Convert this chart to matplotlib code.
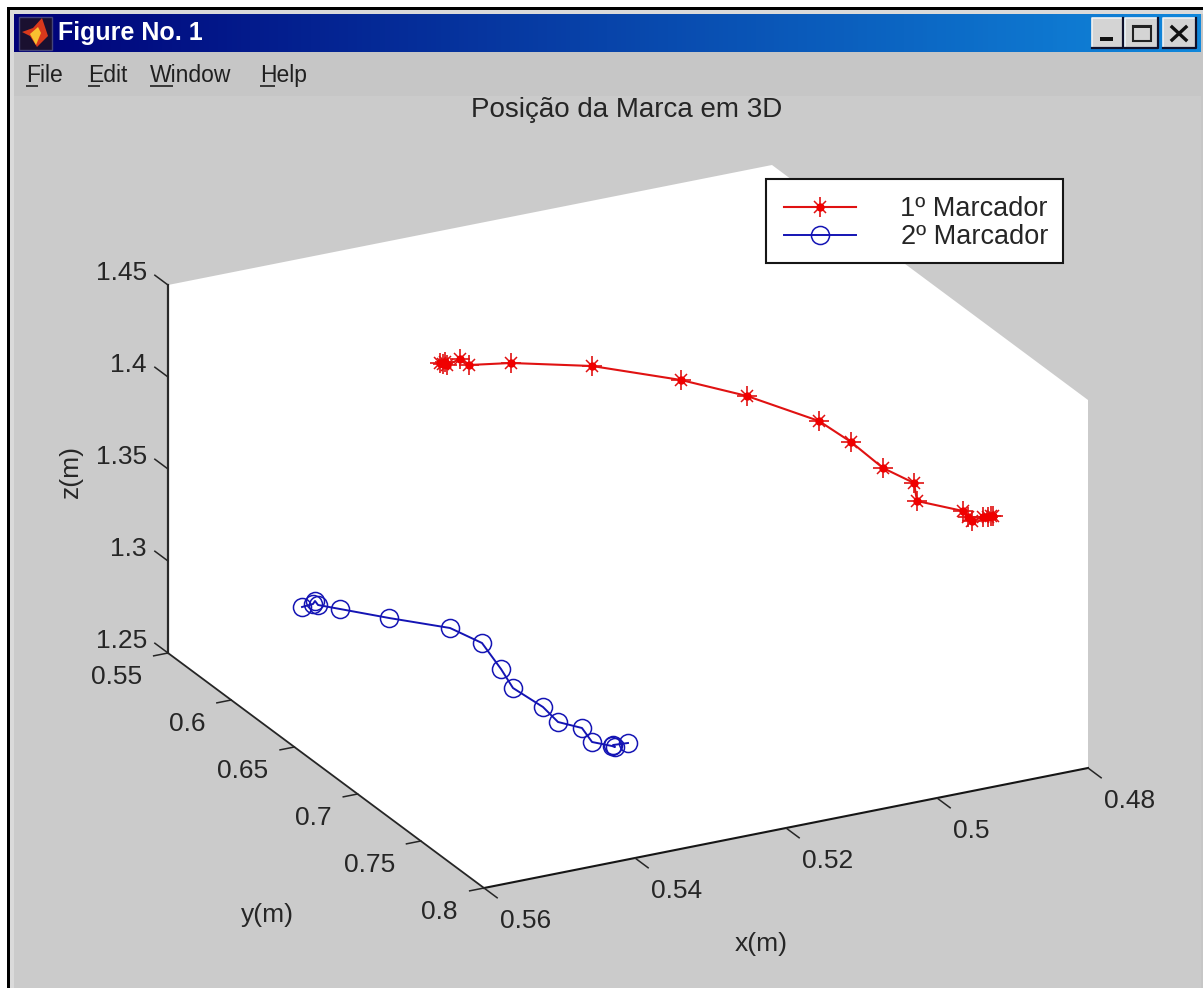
import numpy as np
import matplotlib
matplotlib.use("Agg")
import matplotlib.pyplot as plt
from matplotlib.patches import Polygon, Rectangle

plt.rcParams['font.family'] = ['Liberation Sans', 'DejaVu Sans']

# marker positions in metres
x1 = [.53234, .53211, .53202, .53175, .53037, .52951, .52545, .51807, .50963, .5034, .49638,
      .49297, .49041, .48798, .48758, .484, .48384, .48365, .48353, .48354, .48364, .48371]
y1 = [.600, .601, .602, .602, .604, .606, .615, .635, .655, .67, .685,
      .69, .70, .71, .71, .725, .728, .73, .738, .742, .745, .747]
z1 = [1.41061, 1.41039, 1.41191, 1.41006, 1.41321, 1.41027, 1.41265, 1.41522, 1.41095, 1.40484, 1.39319,
      1.38155, 1.37045, 1.36542, 1.35531, 1.35462, 1.35276, 1.35145, 1.35761, 1.35967, 1.36183, 1.3629]

x2 = [.55062, .5495, .5494, .54917, .54726, .54328, .53855, .53599, .53431, .53356,
      .5321, .53178, .53112, .53146, .53133, .53143, .53136, .53172]
y2 = [.60, .602, .603, .604, .61, .625, .645, .655, .66, .665,
      .68, .69, .705, .715, .73, .733, .731, .745]
z2 = [1.2929, 1.29464, 1.2967, 1.29485, 1.29418, 1.29371, 1.29463, 1.2895, 1.27655, 1.26817,
      1.26432, 1.26102, 1.26488, 1.26266, 1.26804, 1.26911, 1.26912, 1.27765]

x_ticks = [0.56, 0.54, 0.52, 0.5, 0.48]
y_ticks = [0.55, 0.6, 0.65, 0.7, 0.75, 0.8]
z_ticks = [1.25, 1.3, 1.35, 1.4, 1.45]
x_labels = ['0.56', '0.54', '0.52', '0.5', '0.48']
y_labels = ['0.55', '0.6', '0.65', '0.7', '0.75', '0.8']
z_labels = ['1.25', '1.3', '1.35', '1.4', '1.45']
series_names = ['1º Marcador', '2º Marcador']
menu_items = ['File', 'Edit', 'Window', 'Help']
menu_left = [26, 88, 150, 260]
menu_under = [12, 12, 23, 15]

GRAY = '#cbcbcb'
TXT = '#262626'
RED = '#e01212'
BLUE = '#1414b4'


def project(x, y, z):
    # matlab style orthographic view, screen pixels
    x, y, z = np.asarray(x), np.asarray(y), np.asarray(z)
    u = 168 + 7550 * (.56 - x) + 1264 * (y - .55)
    v = 653 - 1500 * (.56 - x) + 940 * (y - .55) - 1840 * (z - 1.25)
    return u, v


def star_line(u, v, zorder, every=None):
    # matlab star: long cross, shorter diagonals, blob in the middle
    ax.plot(u, v, color=RED, lw=1.5, zorder=zorder)
    ax.plot(u, v, ls='none', marker='+', ms=14, mew=1.2, mec=RED, markevery=every, zorder=zorder)
    ax.plot(u, v, ls='none', marker='x', ms=9, mew=1.1, mec=RED, markevery=every, zorder=zorder)
    ax.plot(u, v, ls='none', marker='o', ms=6, mew=0, mfc='#f00000', markevery=every, zorder=zorder)


fig = plt.figure(figsize=(12.03, 9.88), dpi=100, facecolor='white')
ax = fig.add_axes([0, 0, 1, 1])

# window chrome
ax.add_patch(Rectangle((7, 7), 1196, 981, fc='black', ec='none'))
ax.add_patch(Rectangle((10, 10), 1193, 978, fc='#dadada', ec='none'))
ax.add_patch(Rectangle((14, 52), 1189, 44, fc='#c6c6c6', ec='none'))
ax.add_patch(Rectangle((14, 96), 1189, 892, fc=GRAY, ec='none'))
ax.add_patch(Rectangle((1201, 14), 2, 974, fc='#c6c6c6', ec='none'))

grad = np.linspace(0, 1, 256).reshape(1, -1)
cmap = matplotlib.colors.LinearSegmentedColormap.from_list('title', ['#000078', '#1088dc'])
ax.imshow(grad, cmap=cmap, extent=(14, 1201, 52, 14), aspect='auto', zorder=1)

# matlab icon
ax.add_patch(Rectangle((19, 17), 33, 33, fc='#1a1030', ec='#44447a', lw=1, zorder=2))
ax.add_patch(Polygon([(22, 32), (33, 28), (42, 18), (48, 36), (37, 47), (30, 36)], fc='#d8381c', ec='none', zorder=3))
ax.add_patch(Polygon([(30, 34), (38, 27), (41, 33), (36, 45)], fc='#f8c030', ec='none', zorder=4))

ax.text(58, 33, 'Figure No. 1', color='white', fontsize=18, fontweight='bold', va='center', ha='left', zorder=5)

for name, left, under in zip(menu_items, menu_left, menu_under):
    ax.text(left, 82, name, color='#202020', fontsize=16.5, va='baseline', ha='left')
    ax.plot([left, left + under], [86, 86], color='#202020', lw=1.2, solid_capstyle='butt')

# title bar buttons
for left, right in [(1092, 1123), (1125, 1158), (1163, 1196)]:
    ax.add_patch(Rectangle((left, 18), right - left, 30, fc='#d4d4d4', ec='none', zorder=3))
    ax.plot([left, left, right], [48, 18, 18], color='#f2f2f2', lw=1.2, zorder=4)
    ax.plot([left, right, right], [48, 48, 18], color='#10102a', lw=1.6, zorder=4)
ax.add_patch(Rectangle((1100, 37), 13, 4, fc='#111111', ec='none', zorder=5))
ax.add_patch(Rectangle((1133, 26), 18, 15, fc='none', ec='#222222', lw=1.5, zorder=5))
ax.add_patch(Rectangle((1133, 25), 18, 3, fc='#222222', ec='none', zorder=5))
ax.plot([1172, 1186], [27, 40], color='#111111', lw=2.4, zorder=5)
ax.plot([1186, 1172], [27, 40], color='#111111', lw=2.4, zorder=5)

# white box of the 3D axes
xa, ya, za = x_ticks[0], y_ticks[0], z_ticks[0]
xb, yb, zb = x_ticks[-1], y_ticks[-1], z_ticks[-1]
cx = [xa, xa, xb, xb, xb, xa]
cy = [ya, ya, ya, yb, yb, yb]
cz = [za, zb, zb, zb, za, za]
cu, cv = project(cx, cy, cz)
ax.add_patch(Polygon(np.c_[cu, cv], fc='white', ec='none', zorder=2))

# axis lines
u, v = project([xa, xa], [ya, ya], [za, zb])
ax.plot(u, v, color='#2a2a2a', lw=1.6, zorder=3)
u, v = project([xa, xa], [ya, yb], [za, za])
ax.plot(u, v, color='#262626', lw=1.3, zorder=3)
u, v = project([xa, xb], [yb, yb], [za, za])
ax.plot(u, v, color='#161616', lw=1.5, zorder=3)

tick_font = 19
for val, lab in zip(x_ticks, x_labels):
    u, v = project([val, val], [yb, yb + .0104], [za, za])
    ax.plot(u, v, color='#262626', lw=1.1, zorder=3)
    ax.text(u[0] + 16, v[0] + 33, lab, color=TXT, fontsize=tick_font, ha='left', va='center')
for val, lab in zip(y_ticks, y_labels):
    u, v = project([xa + .0019, xa], [val, val], [za, za])
    ax.plot(u, v, color='#262626', lw=1.1, zorder=3)
    ax.text(u[1] - 26, v[1] + 24, lab, color=TXT, fontsize=tick_font, ha='right', va='center')
for val, lab in zip(z_ticks, z_labels):
    u, v = project([xa, xa], [ya, ya - .0104], [val, val])
    ax.plot(u, v, color='#262626', lw=1.1, zorder=3)
    ax.text(u[0] - 21, v[0] - 12, lab, color=TXT, fontsize=tick_font, ha='right', va='center')

ax.text(761, 944, 'x(m)', color=TXT, fontsize=tick_font, ha='center', va='center')
ax.text(267, 915, 'y(m)', color=TXT, fontsize=tick_font, ha='center', va='center')
ax.text(71, 471, 'z(m)', color=TXT, fontsize=tick_font, ha='center', va='center', rotation=90)
ax.text(627, 110, 'Posição da Marca em 3D', color=TXT, fontsize=20, ha='center', va='center')

# trajectories
circ = dict(marker='o', ms=13, mew=1.1, mfc='none', mec=BLUE)
u, v = project(x1, y1, z1)
star_line(u, v, 4)
u, v = project(x2, y2, z2)
ax.plot(u, v, color=BLUE, lw=1.4, zorder=4, **circ)

# legend box
ax.add_patch(Rectangle((766, 179), 297, 84, fc='white', ec='#161616', lw=1.5, zorder=6))
star_line([784, 820, 856], [207.5, 207.5, 207.5], 7, every=[1])
ax.plot([784, 820, 856], [235, 235, 235], color=BLUE, lw=1.4, markevery=[1], zorder=7, **circ)
ax.text(1048, 209, series_names[0], color=TXT, fontsize=19.5, ha='right', va='center', zorder=7)
ax.text(1048, 237, series_names[1], color=TXT, fontsize=19.5, ha='right', va='center', zorder=7)

ax.set_xlim(0, 1203)
ax.set_ylim(988, 0)
ax.axis('off')

plt.savefig('out.png', dpi=100)
